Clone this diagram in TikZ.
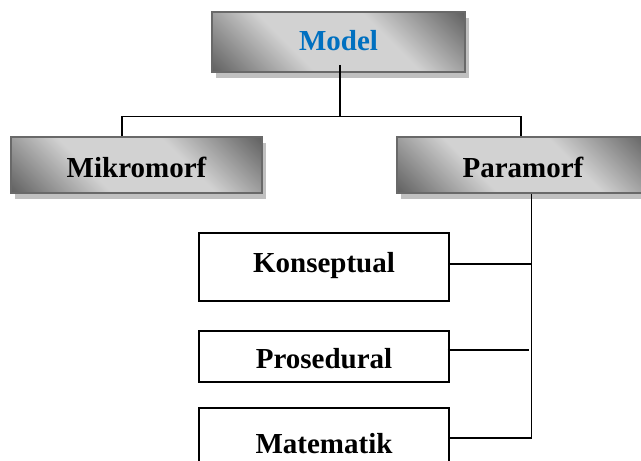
\documentclass[tikz,border=0pt]{standalone}
\usepackage{fontspec}
\setmainfont{Liberation Serif}
\usetikzlibrary{shadows,calc}
\definecolor{bdark}{RGB}{98,98,98}
\definecolor{blight}{RGB}{210,210,210}
\definecolor{bedge}{RGB}{105,105,105}
\definecolor{shadowgray}{RGB}{192,192,192}
\definecolor{modelblue}{RGB}{0,112,192}
\pgfdeclareverticalshading{boxshade}{100bp}{color(0bp)=(bdark); color(15bp)=(bdark); color(38bp)=(blight); color(62bp)=(blight); color(85bp)=(bdark); color(100bp)=(bdark)}
\begin{document}
\begin{tikzpicture}[x=1pt,y=-1pt,
  lbl/.style={font=\fontsize{29}{30}\selectfont\bfseries},
  graybox/.style={lbl, draw=bedge, line width=1.6pt, shading=boxshade, shading angle=-45,
    inner sep=0pt, text depth=0pt,
    drop shadow={shadow xshift=4pt, shadow yshift=-6pt, fill=shadowgray, opacity=1}},
  whitebox/.style={lbl, draw=black, line width=1.3pt, fill=white, inner sep=0pt,
    text depth=0pt, minimum width=250pt},
  link/.style={line width=1.3pt, draw=black}]
\useasboundingbox (0,0) rectangle (641,461);
\clip (0,0) rectangle (641,461);

\node[graybox, minimum width=253pt, minimum height=60pt, text height=16pt, text=modelblue] (model) at (338.5,42) {Model};
\node[graybox, minimum width=251pt, minimum height=56pt, text height=24pt] (mik) at (136.5,165) {Mikromorf};
\node[graybox, minimum width=252pt, minimum height=56pt, text height=24pt] (para) at (523,165) {Paramorf};

\node[whitebox, minimum height=68pt, text height=10pt] (kon) at (324,267) {Konseptual};
\node[whitebox, minimum height=51pt, text height=23pt] (pro) at (324,356.5) {Prosedural};
\node[whitebox, minimum height=68pt, text height=22pt] (mat) at (324,442) {Matematik};

\coordinate (bar) at ($(model.south)+(1.5,44)$);
\draw[link] ($(model.south)+(1.5,-8)$) -- (bar);
\draw[link] ($(mik.north)+(-14.5,0)$) |- (bar) -| ($(para.north)+(-2,0)$);

\coordinate (spine) at ($(para.south)+(8.5,0)$);
\draw[link] (spine) |- ($(mat.east)+(0,-4)$);
\draw[link] ($(kon.east)+(0,-3)$) -- ($(kon.east -| spine)+(0,-3)$);
\draw[link] ($(pro.east)+(-2,-6.5)$) -- ++(81,0);
\end{tikzpicture}
\end{document}
